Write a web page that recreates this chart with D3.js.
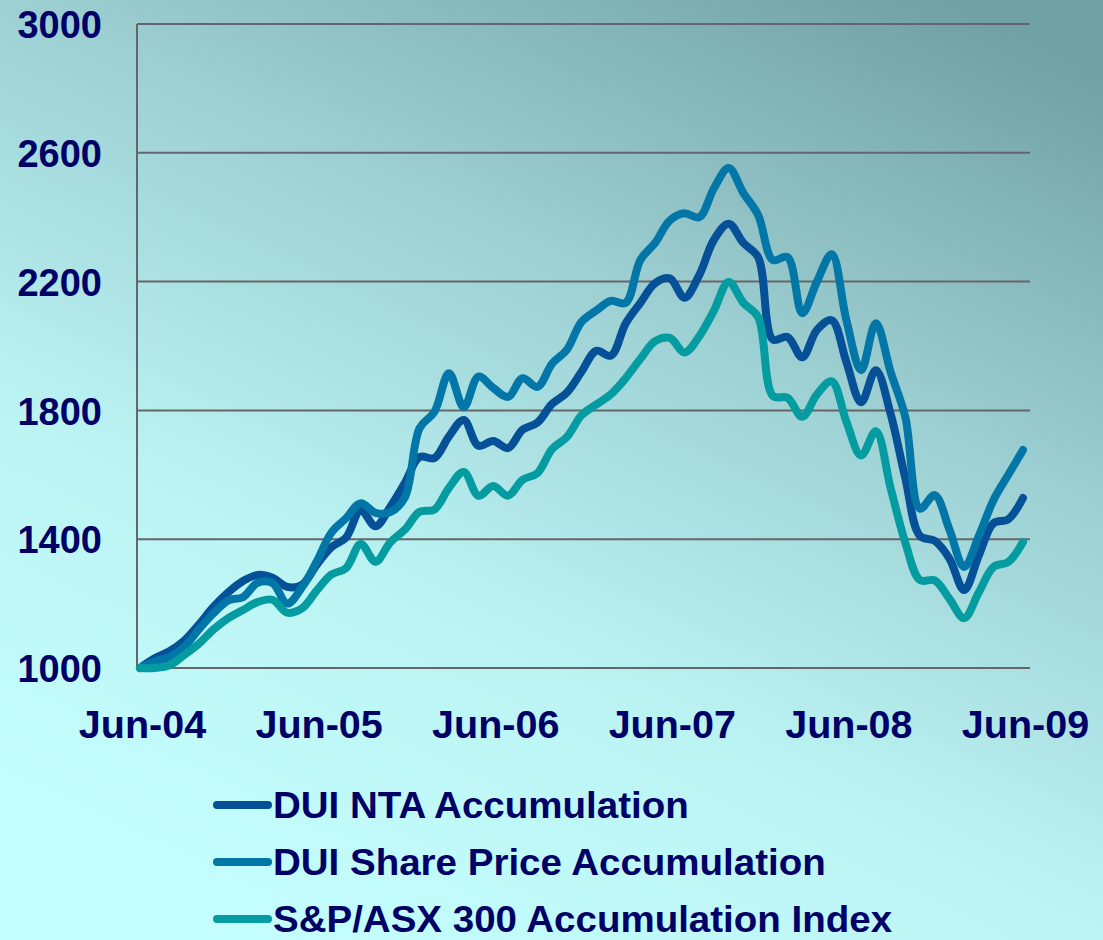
<!DOCTYPE html>
<html>
<head>
<meta charset="utf-8">
<script src="https://cdn.jsdelivr.net/npm/d3@7"></script>
<style>
  html, body { margin: 0; padding: 0; background: #b8eeee; }
  svg { display: block; }
  text { font-family: "Liberation Sans", Arial, sans-serif; font-weight: bold; fill: #000066; }
</style>
</head>
<body>
<svg id="chart" width="1103" height="940"></svg>
<script>
// ---- data ----
const xTickLabels = ["Jun-04", "Jun-05", "Jun-06", "Jun-07", "Jun-08", "Jun-09"];
const yTicks = [1000, 1400, 1800, 2200, 2600, 3000];
const seriesNames = ["DUI NTA Accumulation", "DUI Share Price Accumulation", "S&P/ASX 300 Accumulation Index"];

// monthly values Jun-04 .. Jun-09 (61 points)
const ntaValues = [1000, 1030, 1052, 1085, 1135, 1190, 1235, 1270, 1289, 1280, 1252, 1258,
  1320, 1375, 1405, 1490, 1440, 1500, 1575, 1655, 1652, 1720, 1770, 1690,
  1705, 1683, 1740, 1762, 1820, 1855, 1920, 1985, 1970, 2070, 2134, 2195,
  2210, 2150, 2220, 2330, 2380, 2320, 2276, 2020, 2028, 1965, 2050, 2080,
  1950, 1825, 1925, 1790, 1590, 1410, 1395, 1340, 1242, 1350, 1450, 1462,
  1528];
const shareValues = [1000, 1020, 1034, 1065, 1120, 1170, 1210, 1220, 1265, 1264, 1200, 1250,
  1330, 1420, 1465, 1512, 1482, 1484, 1530, 1745, 1795, 1915, 1810, 1905,
  1870, 1842, 1900, 1873, 1945, 1988, 2075, 2110, 2140, 2134, 2267, 2320,
  2390, 2412, 2400, 2490, 2553, 2475, 2407, 2267, 2276, 2102, 2200, 2285,
  2080, 1925, 2071, 1920, 1780, 1495, 1537, 1430, 1314, 1410, 1522, 1600,
  1677];
const indexValues = [1000, 1000, 1008, 1040, 1075, 1120, 1155, 1180, 1205, 1212, 1172, 1185,
  1240, 1290, 1310, 1385, 1330, 1390, 1430, 1485, 1492, 1560, 1609, 1535,
  1565, 1535, 1585, 1605, 1680, 1717, 1785, 1818, 1850, 1900, 1960, 2015,
  2025, 1980, 2030, 2110, 2199, 2134, 2090, 1845, 1839, 1780, 1850, 1890,
  1765, 1660, 1735, 1560, 1390, 1273, 1272, 1215, 1155, 1235, 1314, 1329,
  1391];
const seriesColors = ["#065098", "#0277a7", "#049ca0"];

// ---- layout ----
const svg = d3.select("#chart");
const W = 1103, H = 940;
const plot = { left: 137, right: 1030, top: 24, bottom: 668 };

// background gradient
const defs = svg.append("defs");
const grad = defs.append("linearGradient").attr("id", "bg")
  .attr("x1", "0.3").attr("y1", "1").attr("x2", "0.85").attr("y2", "0");
grad.append("stop").attr("offset", "0%").attr("stop-color", "#c4fdfd");
grad.append("stop").attr("offset", "30%").attr("stop-color", "#bcf4f4");
grad.append("stop").attr("offset", "65%").attr("stop-color", "#9ccfd2");
grad.append("stop").attr("offset", "100%").attr("stop-color", "#72a1a5");
svg.append("rect").attr("width", W).attr("height", H).attr("fill", "url(#bg)");

const x = d3.scaleLinear().domain([0, 60]).range([140, 1023]);
const y = d3.scaleLinear().domain([1000, 3000]).range([plot.bottom, plot.top]);

// gridlines
svg.append("g").selectAll("line").data(yTicks).join("line")
  .attr("x1", plot.left).attr("x2", plot.right)
  .attr("y1", d => y(d)).attr("y2", d => y(d))
  .attr("stroke", "#666").attr("stroke-width", 2);
// left axis line
svg.append("line").attr("x1", plot.left).attr("x2", plot.left)
  .attr("y1", plot.top).attr("y2", plot.bottom)
  .attr("stroke", "#666").attr("stroke-width", 2);

// y axis labels
const yAxis = d3.axisLeft(y).tickValues(yTicks).tickSize(0).tickPadding(35).tickFormat(d3.format("d"));
const gy = svg.append("g").attr("transform", `translate(${plot.left},0)`).call(yAxis);
gy.select(".domain").remove();
gy.selectAll("text").attr("font-size", 38).attr("font-family", "Liberation Sans, Arial, sans-serif")
  .attr("font-weight", "bold").attr("fill", "#000066").attr("dy", "0.36em");

// x axis labels
const xAxis = d3.axisBottom(x).tickValues([0, 12, 24, 36, 48, 60]).tickSize(0).tickPadding(0)
  .tickFormat((d, i) => xTickLabels[i]);
const gx = svg.append("g").attr("transform", `translate(2,${738})`).call(xAxis);
gx.select(".domain").remove();
gx.selectAll("text").attr("font-size", 38).attr("font-family", "Liberation Sans, Arial, sans-serif")
  .attr("font-weight", "bold").attr("fill", "#000066").attr("dy", 0).attr("y", 0)
  .attr("transform", "scale(1.04,1)");

// lines
const allSeries = [ntaValues, shareValues, indexValues];
const line = d3.line().x((d, i) => x(i)).y(d => y(d)).curve(d3.curveCatmullRom.alpha(0.5));
svg.append("g").selectAll("path").data(allSeries).join("path")
  .attr("d", d => line(d))
  .attr("fill", "none")
  .attr("stroke", (d, i) => seriesColors[i])
  .attr("stroke-width", 8)
  .attr("stroke-linecap", "round")
  .attr("stroke-linejoin", "round");

// legend
const legendY = [805, 862, 919];
const lg = svg.append("g");
seriesNames.forEach((name, i) => {
  lg.append("line").attr("x1", 217).attr("x2", 268)
    .attr("y1", legendY[i]).attr("y2", legendY[i])
    .attr("stroke", seriesColors[i]).attr("stroke-width", 8).attr("stroke-linecap", "round");
  lg.append("text")
    .attr("transform", `translate(273,${legendY[i]}) scale(1.07,1)`)
    .attr("dy", "0.36em")
    .attr("font-size", 36).text(name);
});
</script>
</body>
</html>
